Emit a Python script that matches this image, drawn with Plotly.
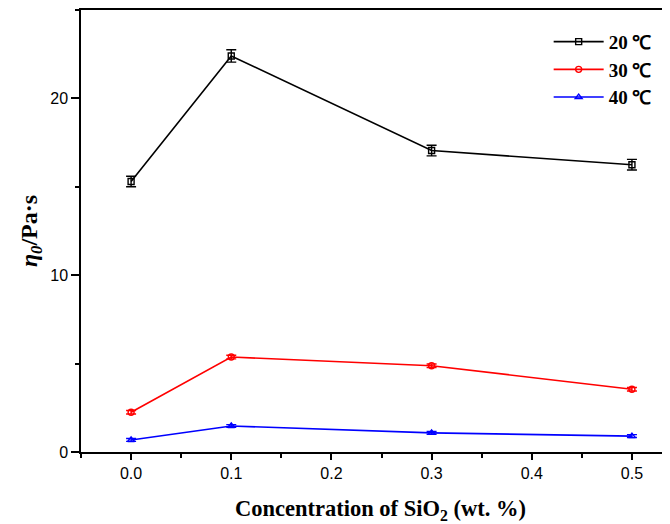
import plotly.graph_objects as go

conc = [0.0, 0.1, 0.3, 0.5]
eta_20 = [15.3, 22.4, 17.05, 16.25]
err_20 = [0.3, 0.35, 0.3, 0.3]
eta_30 = [2.25, 5.37, 4.88, 3.55]
err_30 = [0.1, 0.1, 0.1, 0.1]
eta_40 = [0.68, 1.47, 1.08, 0.9]
err_40 = [0.08, 0.08, 0.08, 0.08]
names = ["20 ℃", "30 ℃", "40 ℃"]
x_title = "Concentration of SiO<sub>2</sub> (wt. %)"
y_title = "<i>η</i><sub><i>0</i></sub>/Pa·s"

fig = go.Figure()
series = [
    (eta_20, err_20, "#000000", "square-open"),
    (eta_30, err_30, "#ff0000", "circle-open"),
    (eta_40, err_40, "#0000ff", "triangle-up-open"),
]
for (ys, es, col, sym), nm in zip(series, names):
    fig.add_trace(go.Scatter(
        x=conc, y=ys, name=nm, mode="lines+markers",
        line=dict(color=col, width=1.6),
        marker=dict(symbol=sym, size=6, color=col, line=dict(width=1.4, color=col)),
        error_y=dict(type="data", array=es, visible=True, color=col, thickness=1.4, width=5),
    ))

fig.update_layout(
    width=662, height=516,
    margin=dict(l=73, r=0, t=2, b=72),
    plot_bgcolor="white", paper_bgcolor="white",
    showlegend=True,
    legend=dict(x=0.794, y=0.971, xanchor="left", yanchor="top",
                bgcolor="rgba(0,0,0,0)",
                font=dict(family="Liberation Serif", size=19, color="black", weight="bold"),
                tracegroupgap=0, itemwidth=50),
    font=dict(family="Liberation Sans", color="black"),
)
fig.add_annotation(
    text=x_title, xref="paper", yref="paper", x=0.508, y=-0.131,
    xanchor="center", yanchor="middle", showarrow=False,
    font=dict(family="Liberation Serif", size=22.5, color="black", weight="bold"),
)
fig.update_xaxes(
    range=[-0.05, 0.538], showgrid=False, zeroline=False, automargin=False,
    showline=True, linecolor="black", linewidth=1.5, mirror=True,
    ticks="outside", ticklen=6, tickwidth=1.5, tickcolor="black",
    tick0=0, dtick=0.1, tickformat=".1f",
    tickfont=dict(family="Liberation Sans", size=16, color="black"),
    minor=dict(dtick=0.05, tick0=0, ticks="outside", ticklen=4, tickwidth=1.5, tickcolor="black"),
)
fig.update_yaxes(
    range=[0, 25], showgrid=False, zeroline=False, automargin=False,
    showline=True, linecolor="black", linewidth=1.5,
    ticks="outside", ticklen=8, tickwidth=1.5, tickcolor="black",
    tick0=0, dtick=10,
    tickfont=dict(family="Liberation Sans", size=16, color="black"),
    minor=dict(dtick=5, tick0=0, ticks="outside", ticklen=4, tickwidth=1.5, tickcolor="black"),
    title=dict(text=y_title,
               font=dict(family="Liberation Serif", size=24, color="black", weight="bold"),
               standoff=6),
)

fig.write_html("out.html")
